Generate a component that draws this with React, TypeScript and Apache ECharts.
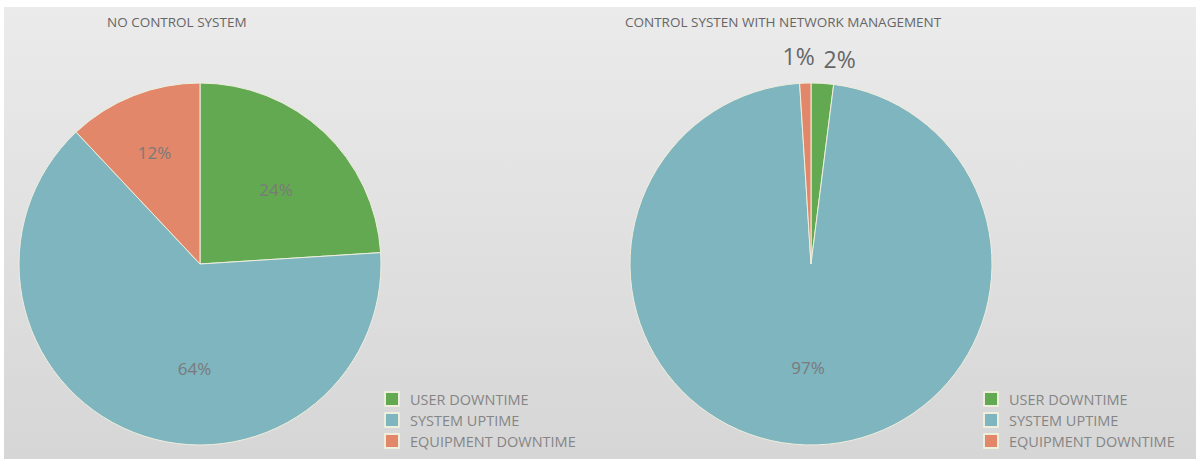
import React, { useEffect, useRef } from "react";
import * as echarts from "echarts";

const categories = ["USER DOWNTIME", "SYSTEM UPTIME", "EQUIPMENT DOWNTIME"];
const noControlValues = [24, 64, 12];
const withControlValues = [2, 97, 1];
const titles = ["NO CONTROL SYSTEM", "CONTROL SYSTEN WITH NETWORK MANAGEMENT"];

const sliceColors = ["#62a952", "#7eb5bf", "#e2876a"];
const leftLabelOffsets = [[12, -6], [29, 18], [-11, -25]];
const rightLabelOffsets = [[-9, -6], [0, 10], [19, -9]];
const FONT = "'Open Sans', Lato, sans-serif";

export default function App() {
  const ref = useRef<HTMLDivElement>(null);
  useEffect(() => {
    if (!ref.current) return;
    const chart = echarts.init(ref.current, null, { renderer: "svg" });
    const leftData = categories.map((name, i) => ({
      name,
      value: noControlValues[i],
      itemStyle: { color: sliceColors[i] },
      label: { offset: leftLabelOffsets[i] },
    }));
    const rightData = categories.map((name, i) =>
      i === 1
        ? {
            name,
            value: withControlValues[i],
            itemStyle: { color: sliceColors[i] },
            label: { offset: rightLabelOffsets[i] },
          }
        : {
            name,
            value: withControlValues[i],
            itemStyle: { color: sliceColors[i] },
            label: { position: "outside", fontSize: 23, color: "#666", offset: rightLabelOffsets[i] },
            labelLine: { show: false, length: 18, length2: 4 },
          }
    );
    const legendBase = {
      orient: "vertical",
      icon: "rect",
      itemWidth: 14,
      itemHeight: 14,
      itemGap: 5,
      padding: 0,
      data: categories,
      textStyle: { color: "#858585", fontSize: 14.5, fontFamily: FONT, padding: [0, 0, 0, 6] },
      selectedMode: false,
    };
    const titleStyle = { fontSize: 13.5, fontWeight: "normal", color: "#666", fontFamily: FONT };
    const labelBase = {
      show: true,
      position: "inside",
      formatter: "{c}%",
      fontSize: 17,
      color: "#7a7a7a",
      fontFamily: FONT,
    };
    chart.setOption({
      animation: false,
      backgroundColor: "transparent",
      graphic: [
        {
          type: "rect",
          z: -10,
          shape: { x: 4, y: 7, width: 1192, height: 452 },
          style: {
            fill: new echarts.graphic.LinearGradient(0, 0, 0, 1, [
              { offset: 0, color: "#ebebeb" },
              { offset: 1, color: "#d6d6d6" },
            ]),
          },
        },
      ],
      title: [
        { text: titles[0], left: 102, top: 10, textStyle: titleStyle },
        { text: titles[1], left: 620, top: 10, textStyle: titleStyle },
      ],
      legend: [
        { ...legendBase, left: 384, top: 391 },
        { ...legendBase, left: 983, top: 391 },
      ],
      series: [
        {
          type: "pie",
          center: [200, 264],
          radius: 181,
          startAngle: 90,
          clockwise: true,
          avoidLabelOverlap: false,
          itemStyle: { borderColor: "#eeeedd", borderWidth: 1 },
          label: labelBase,
          emphasis: { disabled: true },
          data: leftData,
        },
        {
          type: "pie",
          center: [811, 264],
          radius: 181,
          startAngle: 90,
          clockwise: true,
          avoidLabelOverlap: false,
          itemStyle: { borderColor: "#eeeedd", borderWidth: 1 },
          label: labelBase,
          emphasis: { disabled: true },
          data: rightData,
        },
      ],
    });
    return () => chart.dispose();
  }, []);
  return (
    <div
      ref={ref}
      style={{ position: "absolute", left: 0, top: 0, width: 1196, height: 459, background: "#fff" }}
    />
  );
}
